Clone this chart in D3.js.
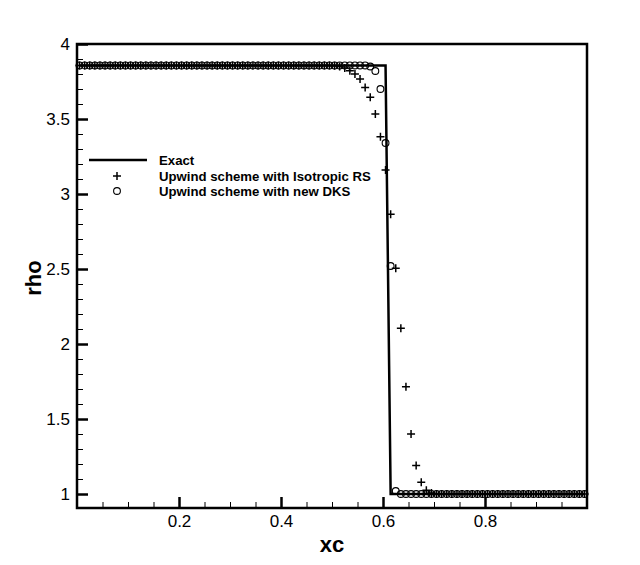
<!DOCTYPE html>
<html>
<head>
<meta charset="utf-8">
<script src="https://cdn.jsdelivr.net/npm/d3@7"></script>
<style>
    body { margin: 0; background: #fff; }
    svg text { font-family: "Liberation Sans", Arial, Helvetica, sans-serif; }
</style>
</head>
<body>
<div id="chart"></div>
<script>
; (function () {

    // cell centres
    var xc = [
        0.005, 0.015, 0.025, 0.035, 0.045, 0.055, 0.065, 0.075, 0.085, 0.095,
        0.105, 0.115, 0.125, 0.135, 0.145, 0.155, 0.165, 0.175, 0.185, 0.195,
        0.205, 0.215, 0.225, 0.235, 0.245, 0.255, 0.265, 0.275, 0.285, 0.295,
        0.305, 0.315, 0.325, 0.335, 0.345, 0.355, 0.365, 0.375, 0.385, 0.395,
        0.405, 0.415, 0.425, 0.435, 0.445, 0.455, 0.465, 0.475, 0.485, 0.495,
        0.505, 0.515, 0.525, 0.535, 0.545, 0.555, 0.565, 0.575, 0.585, 0.595,
        0.605, 0.615, 0.625, 0.635, 0.645, 0.655, 0.665, 0.675, 0.685, 0.695,
        0.705, 0.715, 0.725, 0.735, 0.745, 0.755, 0.765, 0.775, 0.785, 0.795,
        0.805, 0.815, 0.825, 0.835, 0.845, 0.855, 0.865, 0.875, 0.885, 0.895,
        0.905, 0.915, 0.925, 0.935, 0.945, 0.955, 0.965, 0.975, 0.985, 0.995
    ]

    // Upwind scheme with Isotropic RS (+)
    var rhoIso = [
        3.857, 3.857, 3.857, 3.857, 3.857, 3.857, 3.857, 3.857, 3.857, 3.857,
        3.857, 3.857, 3.857, 3.857, 3.857, 3.857, 3.857, 3.857, 3.857, 3.857,
        3.857, 3.857, 3.857, 3.857, 3.857, 3.857, 3.857, 3.857, 3.857, 3.857,
        3.857, 3.857, 3.857, 3.857, 3.857, 3.857, 3.857, 3.857, 3.857, 3.857,
        3.857, 3.857, 3.857, 3.857, 3.857, 3.857, 3.857, 3.857, 3.857, 3.857,
        3.855, 3.85, 3.84, 3.822, 3.80, 3.767, 3.71, 3.645, 3.533, 3.382,
        3.16, 2.865, 2.505, 2.105, 1.715, 1.40, 1.19, 1.078, 1.025, 1.007,
        1, 1, 1, 1, 1, 1, 1, 1, 1, 1,
        1, 1, 1, 1, 1, 1, 1, 1, 1, 1,
        1, 1, 1, 1, 1, 1, 1, 1, 1, 1
    ]

    // Upwind scheme with new DKS (o)
    var rhoDks = [
        3.857, 3.857, 3.857, 3.857, 3.857, 3.857, 3.857, 3.857, 3.857, 3.857,
        3.857, 3.857, 3.857, 3.857, 3.857, 3.857, 3.857, 3.857, 3.857, 3.857,
        3.857, 3.857, 3.857, 3.857, 3.857, 3.857, 3.857, 3.857, 3.857, 3.857,
        3.857, 3.857, 3.857, 3.857, 3.857, 3.857, 3.857, 3.857, 3.857, 3.857,
        3.857, 3.857, 3.857, 3.857, 3.857, 3.857, 3.857, 3.857, 3.857, 3.857,
        3.857, 3.857, 3.857, 3.857, 3.857, 3.857, 3.857, 3.85, 3.82, 3.70,
        3.34, 2.52, 1.02, 1, 1, 1, 1, 1, 1, 1,
        1, 1, 1, 1, 1, 1, 1, 1, 1, 1,
        1, 1, 1, 1, 1, 1, 1, 1, 1, 1,
        1, 1, 1, 1, 1, 1, 1, 1, 1, 1
    ]

    // exact solution (corners of the step)
    var exactX = [0.005, 0.605, 0.615, 0.995]
    var exactRho = [3.857, 3.857, 1, 1]

    var xTicks = [0.2, 0.4, 0.6, 0.8]
    var yTicks = [1, 1.5, 2, 2.5, 3, 3.5, 4]
    var legendLabels = ["Exact", "Upwind scheme with Isotropic RS", "Upwind scheme with new DKS"]

    var width = 640, height = 565
    var margin = { top: 44, right: 53, bottom: 57, left: 77 }
    var w = width - margin.left - margin.right,
        h = height - margin.top - margin.bottom

    var svg = d3.select("#chart").append("svg")
        .attr("width", width).attr("height", height)

    var g = svg.append("g").attr("transform", "translate(" + margin.left + "," + margin.top + ")")

    var x = d3.scaleLinear().domain([0, 1]).range([0, w])
    var y = d3.scaleLinear().domain([0.9067, 4]).range([h, 0])

    // minor ticks
    var xMinor = d3.range(0.05, 1, 0.05).filter(function (d) { return Math.abs(d * 5 - Math.round(d * 5)) > 1e-6 })
    var yMinor = d3.range(1.1, 4, 0.1).filter(function (d) { return Math.abs(d * 2 - Math.round(d * 2)) > 1e-6 })

    g.append("g").attr("transform", "translate(0," + h + ")")
        .call(d3.axisBottom(x).tickValues(xMinor).tickSize(-6).tickFormat(""))
        .call(function (a) { a.select(".domain").remove(); a.selectAll("line").attr("stroke-width", 1) })

    g.append("g")
        .call(d3.axisLeft(y).tickValues(yMinor).tickSize(-6).tickFormat(""))
        .call(function (a) { a.select(".domain").remove(); a.selectAll("line").attr("stroke-width", 1) })

    // major ticks
    g.append("g").attr("transform", "translate(0," + h + ")")
        .call(d3.axisBottom(x).tickValues(xTicks).tickSize(-11).tickPadding(7).tickFormat(d3.format(".1f")))
        .call(function (a) {
            a.select(".domain").remove()
            a.selectAll("line").attr("stroke-width", 2.5)
            a.selectAll("text").attr("font-size", 17).attr("fill", "#000")
        })

    g.append("g")
        .call(d3.axisLeft(y).tickValues(yTicks).tickSize(-11).tickPadding(7).tickFormat(function (d) { return String(d) }))
        .call(function (a) {
            a.select(".domain").remove()
            a.selectAll("line").attr("stroke-width", 2.5)
            a.selectAll("text").attr("font-size", 17).attr("fill", "#000")
        })

    // exact line
    var line = d3.line().x(function (d) { return x(d[0]) }).y(function (d) { return y(d[1]) })
    g.append("path")
        .datum(d3.zip(exactX, exactRho))
        .attr("d", line)
        .attr("fill", "none").attr("stroke", "#000").attr("stroke-width", 2.5)

    // plus markers
    var ps = 4
    g.selectAll(".plus")
        .data(d3.zip(xc, rhoIso))
        .enter().append("path")
        .attr("class", "plus")
        .attr("d", function (d) {
            var cx = x(d[0]), cy = y(d[1])
            return "M" + (cx - ps) + "," + cy + "H" + (cx + ps) + "M" + cx + "," + (cy - ps) + "V" + (cy + ps)
        })
        .attr("stroke", "#000").attr("stroke-width", 1.5).attr("fill", "none")

    // circle markers
    g.selectAll(".circ")
        .data(d3.zip(xc, rhoDks))
        .enter().append("circle")
        .attr("class", "circ")
        .attr("cx", function (d) { return x(d[0]) })
        .attr("cy", function (d) { return y(d[1]) })
        .attr("r", 3.4)
        .attr("fill", "none").attr("stroke", "#000").attr("stroke-width", 1.1)

    // frame
    g.append("rect")
        .attr("width", w).attr("height", h)
        .attr("fill", "none").attr("stroke", "#000").attr("stroke-width", 2.5)

    // axis titles
    svg.append("text")
        .attr("x", margin.left + w / 2).attr("y", 552)
        .attr("text-anchor", "middle").attr("font-size", 22).attr("font-weight", "bold")
        .text("xc")

    svg.append("text")
        .attr("transform", "translate(41,278) rotate(-90)")
        .attr("text-anchor", "middle").attr("font-size", 22).attr("font-weight", "bold")
        .text("rho")

    // legend
    var leg = svg.append("g")
    var rowY = [160, 176, 191]
    leg.append("line")
        .attr("x1", 89).attr("x2", 147).attr("y1", rowY[0]).attr("y2", rowY[0])
        .attr("stroke", "#000").attr("stroke-width", 2.5)
    leg.append("path")
        .attr("d", "M" + (117 - ps) + "," + rowY[1] + "H" + (117 + ps) + "M117," + (rowY[1] - ps) + "V" + (rowY[1] + ps))
        .attr("stroke", "#000").attr("stroke-width", 1.5)
    leg.append("circle")
        .attr("cx", 117).attr("cy", rowY[2]).attr("r", 3.4)
        .attr("fill", "none").attr("stroke", "#000").attr("stroke-width", 1.1)
    leg.selectAll(".lt")
        .data(legendLabels)
        .enter().append("text")
        .attr("class", "lt")
        .attr("x", 159)
        .attr("y", function (d, i) { return rowY[i] })
        .attr("dy", "0.35em")
        .attr("font-size", 13.2).attr("font-weight", "bold")
        .text(function (d) { return d })

})();
</script>
</body>
</html>
